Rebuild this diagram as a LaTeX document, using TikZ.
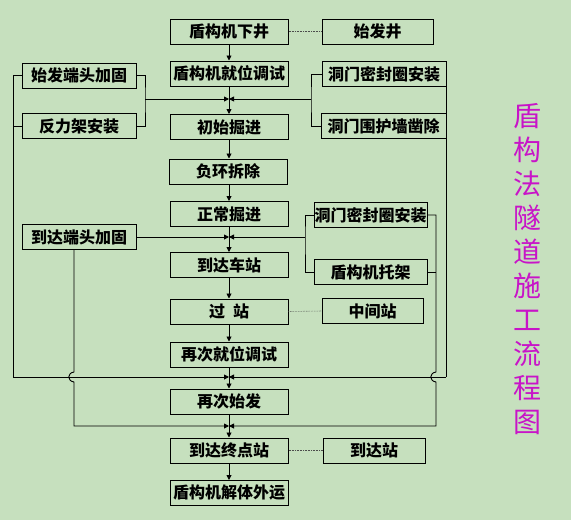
\documentclass[tikz,border=0pt]{standalone}
\usepackage{fontspec}
\newfontfamily\cjk{Noto Sans CJK SC}
\usetikzlibrary{arrows.meta}
\definecolor{bg}{RGB}{198,224,190}
\definecolor{ttl}{RGB}{200,20,200}
\begin{document}
\begin{tikzpicture}[x=1pt,y=-1pt,
 box/.style={draw=black,line width=1pt,inner sep=0pt,minimum height=25pt,font=\cjk\bfseries\fontsize{16}{16}\selectfont,text=black},
 ln/.style={line width=0.9pt},
 arr/.style={ln,-{Triangle[length=5pt,width=5pt]}},
 dotl/.style={line width=0.6pt,densely dotted,draw=black!70}]
\fill[bg] (0,0) rectangle (571,520);
\useasboundingbox (0,0) rectangle (571,520);
% main column
\node[box,minimum width=118pt] (m1) at (229,31.5) {盾构机下井};
\node[box,minimum width=118pt] (m2) at (229,73.5) {盾构机就位调试};
\node[box,minimum width=118pt] (m3) at (229,127) {初始掘进};
\node[box,minimum width=118pt] (m4) at (228,171.5) {负环拆除};
\node[box,minimum width=118pt] (m5) at (229,214) {正常掘进};
\node[box,minimum width=118pt] (m6) at (229,265) {到达车站};
\node[box,minimum width=118pt] (m7) at (229,311.5) {过\hspace{0.5em}站};
\node[box,minimum width=118pt] (m8) at (229,354.5) {再次就位调试};
\node[box,minimum width=118pt] (m9) at (229,401.5) {再次始发};
\node[box,minimum width=118pt] (m10) at (229,450.5) {到达终点站};
\node[box,minimum width=118pt] (m11) at (229,493) {盾构机解体外运};
% left
\node[box,minimum width=114pt] (l1) at (79,75.5) {始发端头加固};
\node[box,minimum width=114pt] (l2) at (79,126) {反力架安装};
\node[box,minimum width=114pt] (l3) at (79,237) {到达端头加固};
% right
\node[box,minimum width=111pt] (r0) at (377.5,31.5) {始发井};
\node[box,minimum width=124pt] (r1) at (384,74) {洞门密封圈安装};
\node[box,minimum width=125pt] (r2) at (383.5,126) {洞门围护墙凿除};
\node[box,minimum width=113pt] (r3) at (370.5,215) {洞门密封圈安装};
\node[box,minimum width=113pt] (r4) at (370.5,272) {盾构机托架};
\node[box,minimum width=101pt] (r5) at (372.5,311) {中间站};
\node[box,minimum width=102pt] (r6) at (374,450.5) {到达站};
% junctions
\coordinate (jA) at (229,99);
\coordinate (jB) at (229,237);
\coordinate (jC) at (229,377);
\coordinate (jD) at (229,426);
\coordinate (bA) at (145,99);
\coordinate (bB) at (311,99);
\coordinate (bC) at (305,237);
\coordinate (cL) at (13,377);
\coordinate (cR) at (446,377);
% main arrows
\draw[arr] (m1.south) -- (m2.north);
\draw[arr] (m2.south) -- (m3.north);
\draw[arr] (m3.south) -- (m3.south |- m4.north);
\draw[arr] (m4.south -| m5.south) -- (m5.north);
\draw[arr] (m5.south) -- (m6.north);
\draw[arr] (m6.south) -- (m7.north);
\draw[arr] (m7.south) -- (m8.north);
\draw[arr] (m8.south) -- (m9.north);
\draw[arr] (m9.south) -- (m10.north);
\draw[arr] (m10.south) -- (m11.north);
% group A
\draw[ln] (l1.east) -| (bA) |- (l2.east);
\draw[arr] (bA) -- (jA);
\draw[ln] (r1.west) -| (bB) |- (r2.west);
\draw[arr] (bB) -- (jA);
\draw[ln] (l1.west) -| (cL);
\draw[ln] (l2.west) -- (l2.west -| cL);
\draw[arr] (cL) -- (jC);
\draw[ln] (r1.east) -| (cR);
\draw[arr] (cR) -- (jC);
% group B
\draw[arr] (l3.east) -- (jB);
\draw[ln] (r3.west) -| (bC) |- (r4.west);
\draw[arr] (bC) -- (jB);
\draw[arr] ([xshift=-5pt]l3.south) -- (74,372) .. controls (67,373) and (67,381) .. (74,382) -- (74,426) -- (jD);
\draw[ln] (r4.east) -- (436,272);
\draw[arr] (r3.east) -- (436,215) -- (436,372) .. controls (429,373) and (429,381) .. (436,382) -- (436,426) -- (jD);
% dotted
\draw[dotl] (m1.east) -- (r0.west);
\draw[dotl] (m7.east) -- (r5.west);
\draw[dotl] (m10.east) -- (r6.west);
% title
\node[text=ttl,align=center,inner sep=0pt,font=\cjk\fontsize{28}{34}\selectfont] (title) at (527,269) {盾\\构\\法\\隧\\道\\施\\工\\流\\程\\图};
\end{tikzpicture}
\end{document}
